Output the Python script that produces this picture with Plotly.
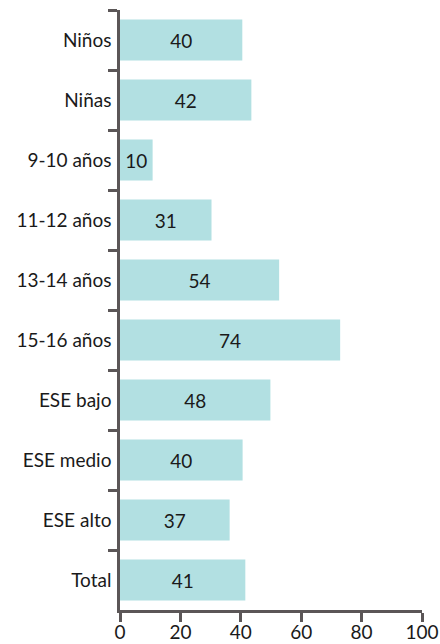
import plotly.graph_objects as go

categories = ["Niños", "Niñas", "9-10 años", "11-12 años", "13-14 años",
              "15-16 años", "ESE bajo", "ESE medio", "ESE alto", "Total"]
values = [40.5, 43.5, 10.8, 30.3, 52.7, 72.9, 49.8, 40.6, 36.3, 41.5]
labels = ["40", "42", "10", "31", "54", "74", "48", "40", "37", "41"]
x_ticks = [0, 20, 40, 60, 80, 100]

FONT = "Lato"
FS = 19
AXIS = "#5b5657"

fig = go.Figure(go.Bar(
    y=categories, x=values, orientation="h",
    text=labels, textposition="inside", insidetextanchor="middle",
    textangle=0, constraintext="none",
    textfont=dict(family=FONT, size=FS, color="#1a1a1a"),
    marker=dict(color="#b2e0e2", line=dict(width=0)),
))

fig.update_layout(
    width=440, height=644,
    margin=dict(l=120, r=18, t=10, b=34, pad=0),
    paper_bgcolor="white", plot_bgcolor="white",
    showlegend=False, bargap=0.32,
    font=dict(family=FONT, size=FS, color="#1a1a1a"),
)
fig.update_xaxes(
    range=[0, 100], tickvals=x_ticks, ticktext=[str(v) for v in x_ticks],
    showgrid=False, zeroline=False, automargin=False,
    showline=True, linecolor=AXIS, linewidth=2.5,
    ticks="outside", ticklen=9, tickwidth=2.5, tickcolor=AXIS,
    ticklabelstandoff=-6,
    tickfont=dict(family=FONT, size=FS, color="#1a1a1a"),
)
fig.update_yaxes(
    type="category", autorange="reversed", tickson="boundaries",
    showgrid=False, zeroline=False, automargin=False,
    showline=True, linecolor=AXIS, linewidth=2.5,
    ticks="outside", ticklen=9, tickwidth=2.5, tickcolor=AXIS,
    ticklabelstandoff=2,
    tickfont=dict(family=FONT, size=FS, color="#1a1a1a"),
)

fig.write_html(
    "out.html",
    config={"displayModeBar": False},
    post_script="document.body.style.margin='0';document.body.style.overflow='hidden';",
)
